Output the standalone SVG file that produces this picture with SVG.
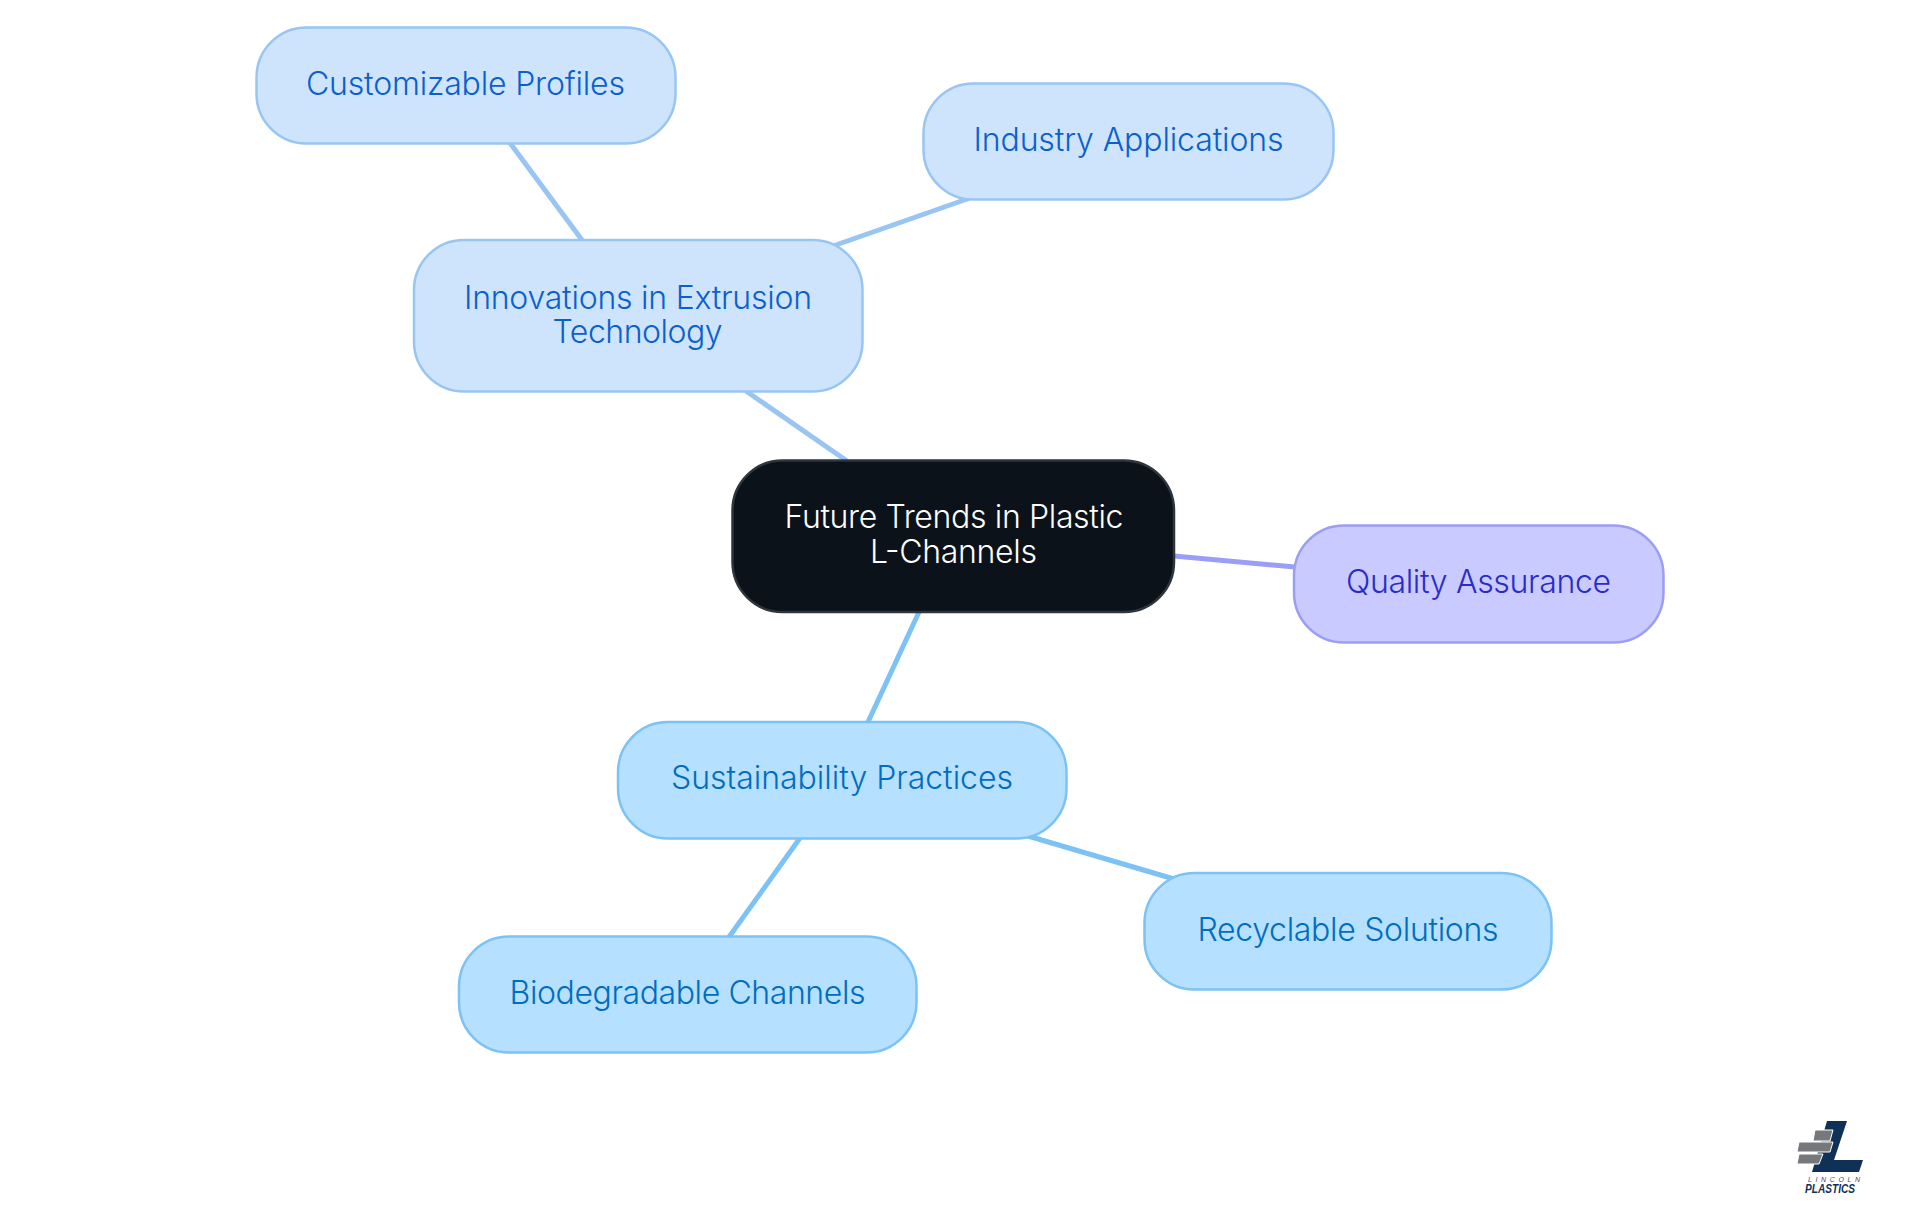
<svg xmlns="http://www.w3.org/2000/svg" width="1920" height="1215" viewBox="0 0 1920 1215">
<style>
text{font-family:"Inter","Noto Sans","Liberation Sans",sans-serif;font-size:32px;font-weight:300;text-anchor:middle}
.box{stroke-width:2.5}
.edge{fill:none;stroke-width:5}
.blue rect{fill:#CEE4FD;stroke:#99C5F3}.blue text{fill:#0A60CC}
.sky rect{fill:#B6E0FF;stroke:#7CC2F5}.sky text{fill:#006DC0}
.vio rect{fill:#C9CAFF;stroke:#9B9EF5}.vio text{fill:#2A2CC9}
.root rect{fill:#0B121A;stroke:#2F353C}.root text{fill:#FFFFFF}
</style>
<rect width="1920" height="1215" fill="#FFFFFF"/>
<g id="connectors">
<line class="edge" x1="746" y1="391" x2="847" y2="461" stroke="#99C5F3"/>
<line class="edge" x1="510" y1="143" x2="582" y2="240" stroke="#99C5F3"/>
<line class="edge" x1="833" y1="246" x2="970" y2="198" stroke="#99C5F3"/>
<line class="edge" x1="1174" y1="556" x2="1295" y2="567" stroke="#9B9EF5"/>
<line class="edge" x1="919" y1="612" x2="868" y2="722" stroke="#7CC2F5"/>
<line class="edge" x1="800" y1="838" x2="729" y2="937" stroke="#7CC2F5"/>
<line class="edge" x1="1028" y1="836" x2="1174" y2="879" stroke="#7CC2F5"/>
</g>
<g id="node-root" class="root"><rect class="box" x="732.5" y="460.5" width="441.5" height="151.5" rx="50"/>
<text x="954" y="528" textLength="339" lengthAdjust="spacing">Future Trends in Plastic</text>
<text x="953.5" y="562.5" textLength="167" lengthAdjust="spacing">L-Channels</text></g>
<g id="node-innovations" class="blue"><rect class="box" x="414" y="240" width="448.5" height="151.5" rx="50"/>
<text x="638" y="308.5" textLength="348" lengthAdjust="spacing">Innovations in Extrusion</text>
<text x="637.5" y="343" textLength="170" lengthAdjust="spacing">Technology</text></g>
<g id="node-customizable" class="blue"><rect class="box" x="256.5" y="27.5" width="419" height="116" rx="50"/>
<text x="465.5" y="95" textLength="319" lengthAdjust="spacing">Customizable Profiles</text></g>
<g id="node-industry" class="blue"><rect class="box" x="923.5" y="83.5" width="410" height="116" rx="50"/>
<text x="1128.5" y="151" textLength="310" lengthAdjust="spacing">Industry Applications</text></g>
<g id="node-quality" class="vio"><rect class="box" x="1294" y="525.5" width="369.5" height="117" rx="50"/>
<text x="1478.5" y="592.5" textLength="265" lengthAdjust="spacing">Quality Assurance</text></g>
<g id="node-sustainability" class="sky"><rect class="box" x="618" y="722" width="448.5" height="116.5" rx="50"/>
<text x="842" y="788.5" textLength="342" lengthAdjust="spacing">Sustainability Practices</text></g>
<g id="node-biodegradable" class="sky"><rect class="box" x="459" y="936.5" width="457.5" height="116" rx="50"/>
<text x="687.5" y="1004" textLength="356" lengthAdjust="spacing">Biodegradable Channels</text></g>
<g id="node-recyclable" class="sky"><rect class="box" x="1144.5" y="873" width="407" height="116.5" rx="50"/>
<text x="1348" y="941" textLength="301" lengthAdjust="spacing">Recyclable Solutions</text></g>
<g id="logo">
<polygon points="1827,1121 1847,1121 1834,1160 1863,1160 1859,1172 1812,1172" fill="#0F3057"/>
<g fill="#76787B" stroke="#FFFFFF" stroke-width="1">
<polygon points="1815,1130 1833,1130 1830,1141 1813,1141"/>
<polygon points="1799,1142 1833,1142 1830,1152 1797,1152"/>
<polygon points="1799,1154 1823,1154 1819,1164 1797,1164"/>
</g>
<text x="1834" y="1182" style="font-size:7px;font-weight:400;font-style:italic;fill:#3b4a5c;font-family:'Liberation Sans',sans-serif" textLength="52" lengthAdjust="spacing">LINCOLN</text>
<text x="1830" y="1193" style="font-size:13px;font-weight:700;font-style:italic;fill:#0F3057;font-family:'Liberation Sans',sans-serif" textLength="50" lengthAdjust="spacingAndGlyphs">PLASTICS</text>
</g>
</svg>
